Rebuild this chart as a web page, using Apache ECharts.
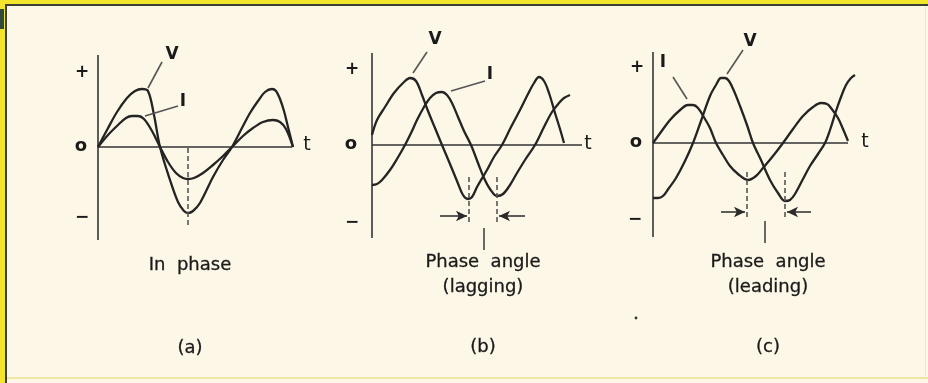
<!DOCTYPE html>
<html>
<head>
<meta charset="utf-8">
<script src="https://cdn.jsdelivr.net/npm/echarts@6/dist/echarts.min.js"></script>
<style>
  html, body { margin: 0; padding: 0; background: #fcf7e6; }
  #chart { width: 928px; height: 383px; }
</style>
</head>
<body>
<div id="chart"></div>
<script>
// ---- (a) In phase: [t, amplitude] ----
const voltageA = [[0,0],[9,17],[19,35],[29,49],[37,56],[44,58],[50,56],[56,32],[62,0],[72,-33],[80,-55],[86,-64],[90,-66],[95,-64],[102,-56],[115,-30],[125,-13],[134,0],[145,21],[152,34],[160,46],[167,55],[174,58],[178,56],[182,48],[186,36],[190,20],[195,0]];
const currentA = [[0,0],[10,12],[20,22],[28,29],[34,31],[40,31],[46,28],[54,16],[62,0],[70,-15],[78,-26],[85,-31],[90,-32],[96,-31],[105,-26],[115,-18],[125,-9],[134,0],[145,11],[155,19],[165,25],[175,27],[182,25],[188,18],[195,0]];

// ---- (b) Phase angle, lagging ----
const voltageB = [[0,10],[5,25],[13,38],[22,52],[32,63],[38,67],[44,64],[50,50],[56,34],[63,17],[70,0],[78,-19],[85,-36],[91,-50],[96,-54],[100,-52],[105,-42],[115,-25],[122,-12],[130,0],[139,18],[148,35],[156,51],[162,62],[167,68],[172,64],[177,52],[183,32],[188,16],[192,2]];
const currentB = [[0,-40],[5,-39],[10,-35],[18,-25],[25,-14],[33,0],[40,14],[45,25],[52,38],[58,47],[64,52],[70,53],[75,50],[80,42],[86,28],[92,14],[99,0],[106,-18],[112,-33],[118,-44],[125,-51],[131,-49],[138,-40],[145,-28],[153,-15],[163,0],[172,18],[180,33],[187,42],[192,47],[198,50]];

// ---- (c) Phase angle, leading ----
const currentC = [[0,0],[8,11],[17,23],[26,32],[35,38],[40,38],[45,35],[52,24],[57,15],[63,0],[70,-12],[77,-23],[85,-31],[95,-37],[103,-33],[110,-25],[120,-13],[130,0],[140,14],[150,27],[160,36],[168,40],[174,39],[178,35],[185,25],[190,14],[195,2]];
const voltageC = [[0,-55],[5,-55],[10,-53],[16,-45],[23,-35],[32,-18],[40,0],[48,22],[57,47],[63,58],[68,65],[72,65],[76,62],[81,52],[87,37],[94,18],[100,0],[108,-17],[117,-37],[125,-50],[132,-58],[137,-57],[142,-51],[150,-36],[157,-23],[165,-11],[172,0],[177,13],[183,32],[188,46],[193,58],[198,65],[202,68]];

// Axis extents per panel: t-axis length, amplitude-axis bottom/top
const tAxisEnd   = [194, 210, 195];
const ampAxisMin = [-93, -93, -94];
const ampAxisMax = [92, 92, 91];

// Dashed markers at the troughs being compared
const troughMarksA = [90];
const troughMarksB = [97, 125];
const troughMarksC = [94, 132];
const troughSpanA = [-1, -78];
const troughSpanB = [-32, -77];
const troughSpanC = [-29, -77];

// Phase-angle arrows: [from t, to t, level]
const arrowsB = [[68, 95, -71], [153, 127, -71]];
const arrowsC = [[68, 92, -69], [158, 134, -69]];
// Phase-angle pointer ticks: [t, top, bottom]
const pointerB = [112, -83, -105];
const pointerC = [112, -78, -100];

// Curve name leaders: [[t1, a1], [t2, a2]]
const leadersA = [[[64,85],[50,59]], [[80,41],[47,31]]];
const leadersB = [[[55,93],[41,72]], [[113,64],[79,54]]];
const leadersC = [[[20,66],[34,44]], [[90,93],[74,69]]];

// Axis and curve labels: [text, t, amplitude]
const labelsA = [['+',-16,74],['o',-17,1],['\u2212',-16,-71],['t',209,2],['V',74,92],['I',85,45]];
const labelsB = [['+',-20,75],['o',-21,1],['\u2212',-20,-78],['t',216,1],['V',63,105],['I',118,70]];
const labelsC = [['+',-16,75],['o',-17,1],['\u2212',-18,-77],['t',212,1],['I',10,80],['V',97,101]];

// Captions under each panel
const captions = [
  ['In  phase', '(a)'],
  ['Phase  angle', '(lagging)', '(b)'],
  ['Phase  angle', '(leading)', '(c)']
];

// ---------------------------------------------------------------
const INK = '#242424';
const FONT = '"DejaVu Sans", sans-serif';
const origins = [[98,147],[372,145],[653,143]];

const grids = [], xAxes = [], yAxes = [], series = [];
origins.forEach(([ox, oy], i) => {
  grids.push({ left: ox - 60, top: oy - 130, width: 300, height: 300, show: false });
  xAxes.push({ type: 'value', gridIndex: i, min: -60, max: 240, show: false });
  yAxes.push({ type: 'value', gridIndex: i, min: -170, max: 130, show: false });
});

function seg(i, pts, style, extra) {
  return Object.assign({
    type: 'line', xAxisIndex: i, yAxisIndex: i, data: pts,
    symbol: 'none', silent: true, animation: false,
    lineStyle: style
  }, extra || {});
}

const panels = [
  { v: voltageA, c: currentA, marks: troughMarksA, span: troughSpanA, arrows: [], pointer: null, leaders: leadersA, labels: labelsA },
  { v: voltageB, c: currentB, marks: troughMarksB, span: troughSpanB, arrows: arrowsB, pointer: pointerB, leaders: leadersB, labels: labelsB },
  { v: voltageC, c: currentC, marks: troughMarksC, span: troughSpanC, arrows: arrowsC, pointer: pointerC, leaders: leadersC, labels: labelsC }
];

panels.forEach((p, i) => {
  // amplitude axis
  series.push(seg(i, [[0, ampAxisMin[i]], [0, ampAxisMax[i]]], { color: '#5c5c5c', width: 2 }));
  // time axis, carrying the phase-angle arrows
  series.push(seg(i, [[0, 0], [tAxisEnd[i], 0]], { color: '#333', width: 1.5 }, {
    markLine: {
      silent: true, animation: false,
      symbol: ['none', 'arrow'], symbolSize: [8, 11],
      label: { show: false },
      lineStyle: { color: '#2a2a2a', width: 1.5, type: 'solid' },
      data: p.arrows.map(([a, b, y]) => [{ coord: [a, y] }, { coord: [b, y] }])
    }
  }));
  // curves
  series.push(seg(i, p.v, { color: INK, width: 2.3 }, { smooth: 0.35 }));
  series.push(seg(i, p.c, { color: INK, width: 2.3 }, { smooth: 0.35 }));
  // dashed trough markers
  p.marks.forEach(t => series.push(seg(i, [[t, p.span[0]], [t, p.span[1]]], { color: '#555', width: 1.6, type: [5, 3] })));
  // pointer tick
  if (p.pointer) series.push(seg(i, [[p.pointer[0], p.pointer[1]], [p.pointer[0], p.pointer[2]]], { color: '#444', width: 1.6 }));
  // name leaders
  p.leaders.forEach(l => series.push(seg(i, l, { color: '#555', width: 1.6 })));
  // text labels
  series.push({
    type: 'scatter', xAxisIndex: i, yAxisIndex: i, silent: true, animation: false,
    symbolSize: 1, itemStyle: { color: 'rgba(0,0,0,0)', opacity: 1 },
    data: p.labels.map(([txt, t, a]) => ({
      name: txt, value: [t, a],
      label: {
        show: true, position: 'inside', formatter: '{b}',
        color: '#1a1a1a', textBorderWidth: 0, textBorderColor: 'transparent', opacity: 1,
        fontFamily: FONT,
        fontSize: txt === 't' ? 19 : (txt === 'o' ? 18 : 17),
        fontWeight: (txt === 't') ? 'normal' : 'bold'
      }
    }))
  });
});

// captions and page frame
const captionX = [190, 483, 768];
const graphics = [];
captions.forEach((lines, i) => {
  const rows = lines.length === 2 ? [265, 348] : [262, 287, 347];
  lines.forEach((txt, k) => graphics.push({
    type: 'text', silent: true,
    style: { text: txt, x: captionX[i], y: rows[k], font: '18px ' + FONT, fill: '#1a1a1a',
             stroke: '#1a1a1a', lineWidth: 0.3,
             textAlign: 'center', textVerticalAlign: 'middle', align: 'center', verticalAlign: 'middle' }
  }));
});
graphics.push(
  { type: 'rect', silent: true, shape: { x: 0, y: 0, width: 928, height: 4 }, style: { fill: '#f2e52c' } },
  { type: 'rect', silent: true, shape: { x: 0, y: 0, width: 5, height: 383 }, style: { fill: '#f2e52c' } },
  { type: 'rect', silent: true, shape: { x: 5, y: 4, width: 923, height: 2 }, style: { fill: '#3b3f35' } },
  { type: 'rect', silent: true, shape: { x: 5, y: 4, width: 2, height: 379 }, style: { fill: '#3b3f35' } },
  { type: 'rect', silent: true, shape: { x: 0, y: 9, width: 4, height: 20 }, style: { fill: '#2f4a3c' } },
  { type: 'rect', silent: true, shape: { x: 7, y: 377, width: 921, height: 2 }, style: { fill: '#efe6a6' } },
  { type: 'rect', silent: true, shape: { x: 925, y: 6, width: 1, height: 372 }, style: { fill: '#f0e8c0' } },
  { type: 'circle', silent: true, shape: { cx: 636, cy: 318, r: 1.4 }, style: { fill: '#333' } }
);

const chart = echarts.init(document.getElementById('chart'), null, { renderer: 'canvas' });
chart.setOption({
  backgroundColor: '#fcf7e6',
  animation: false,
  grid: grids, xAxis: xAxes, yAxis: yAxes,
  series: series,
  graphic: { elements: graphics }
});
</script>
</body>
</html>
